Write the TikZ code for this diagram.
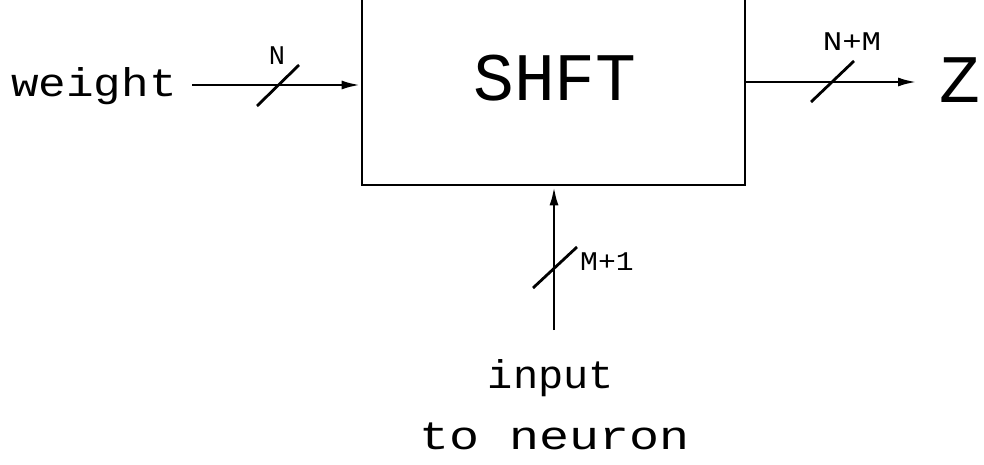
\documentclass[tikz,border=0pt]{standalone}
\usepackage{fontspec}
\usepackage{graphicx}
\newfontfamily\cadfont{Liberation Mono}
\usetikzlibrary{arrows.meta}
\newcommand{\wide}[2][1.2]{\scalebox{#1}[1]{#2}}
\tikzset{
  wire/.style={line width=2.8pt},
  arr/.style={wire,-{Latex[length=19pt,width=9pt]}},
  txt/.style={inner sep=0pt,font=\cadfont\fontsize{40}{42}\selectfont},
  bigtxt/.style={inner sep=0pt,font=\cadfont\fontsize{68}{70}\selectfont},
  lbl/.style={inner sep=0pt,font=\cadfont\fontsize{27}{29}\selectfont},
  slash/.style={wire}
}
\begin{document}
\begin{tikzpicture}[x=1pt,y=-1pt]
\path[use as bounding box] (0,0) rectangle (984,465);
\clip (0,0) rectangle (984,465);
\node[draw,wire,minimum width=383pt,minimum height=210pt,inner sep=0pt] (shft) at (553.5,80) {};
\node[bigtxt] (shtxt) at (555,78) {SHFT};
% input weight
\node[txt] (w) at (94,86) {\wide[1.15]{weight}};
\coordinate (wstart) at (192,85);
\draw[arr] (wstart) -- (shft.west |- wstart);
\draw[slash] (257,106) -- (299,65);
\node[lbl] (n) at (277,56) {N};
% output Z
\coordinate (zend) at (917,82);
\draw[arr] (shft.east |- zend) -- (zend);
\draw[slash] (811,102) -- (854,61);
\node[lbl] (nm) at (852,42) {\wide{N+M}};
\node[bigtxt] (z) at (960,80) {Z};
% bottom input
\coordinate (istart) at (554,330);
\draw[arr] (istart) -- (istart |- shft.south);
\draw[slash] (533,288) -- (577,247);
\node[lbl,anchor=west] (m1) at (580,262) {\wide[1.1]{M+1}};
\node[txt] (inp) at (551,378) {\wide[1.05]{input}};
\node[txt] (neu) at (555,436) {\wide[1.25]{to neuron}};
\end{tikzpicture}
\end{document}
